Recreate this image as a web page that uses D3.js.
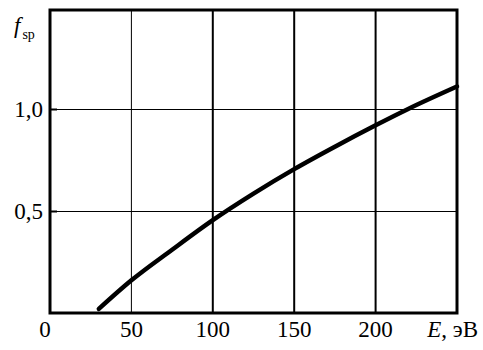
<!DOCTYPE html>
<html lang="ru">
<head>
<meta charset="UTF-8">
<title>f_sp vs E</title>
<script src="https://d3js.org/d3.v7.min.js"></script>
<style>
    body, html { margin: 0; padding: 0; background: #fff; }
    text { font-family: "Liberation Serif", "DejaVu Serif", serif; fill: #000; }
</style>
</head>
<body>
<div id="chart"></div>
<script>
    // data
    const energy = [30, 50, 75, 100, 125, 150, 175, 200, 220, 250];
    const fsp = [0.02, 0.16, 0.31, 0.455, 0.585, 0.705, 0.815, 0.92, 1.0, 1.11];
    const xTicks = [0, 50, 100, 150, 200];
    const yTicks = [0.5, 1.0];
    const yTickLabels = ["0,5", "1,0"];

    const width = 483, height = 350;
    const m = { left: 50, right: 457, top: 10, bottom: 313 };

    const x = d3.scaleLinear().domain([0, 250]).range([m.left, m.right]);
    const y = d3.scaleLinear().domain([0, 1.485]).range([m.bottom, m.top]);

    const svg = d3.select("#chart").append("svg")
        .attr("width", width)
        .attr("height", height);

    // vertical grid lines (50 is thin, others heavier)
    svg.append("g").selectAll("line")
        .data(xTicks.filter(d => d > 0))
        .enter().append("line")
        .attr("x1", d => x(d)).attr("x2", d => x(d))
        .attr("y1", m.top).attr("y2", m.bottom)
        .attr("stroke", "#000")
        .attr("stroke-width", d => d === 50 ? 1 : 2);

    // horizontal grid lines
    svg.append("g").selectAll("line")
        .data(yTicks)
        .enter().append("line")
        .attr("x1", m.left).attr("x2", m.right)
        .attr("y1", d => Math.round(y(d)) + 0.5).attr("y2", d => Math.round(y(d)) + 0.5)
        .attr("stroke", "#000")
        .attr("stroke-width", 1);

    // small inward ticks on the left
    svg.append("g").selectAll("line")
        .data(yTicks)
        .enter().append("line")
        .attr("x1", m.left).attr("x2", m.left + 7)
        .attr("y1", d => Math.round(y(d)) + 0.5).attr("y2", d => Math.round(y(d)) + 0.5)
        .attr("stroke", "#000")
        .attr("stroke-width", 2);

    // frame
    svg.append("rect")
        .attr("x", m.left).attr("y", m.top)
        .attr("width", m.right - m.left).attr("height", m.bottom - m.top)
        .attr("fill", "none")
        .attr("stroke", "#000")
        .attr("stroke-width", 3);

    // curve
    const line = d3.line()
        .x((d, i) => x(energy[i]))
        .y(d => y(d))
        .curve(d3.curveMonotoneX);

    svg.append("path")
        .datum(fsp)
        .attr("d", line)
        .attr("fill", "none")
        .attr("stroke", "#000")
        .attr("stroke-width", 4.5)
        .attr("stroke-linecap", "round");

    // x tick labels
    svg.append("g").selectAll("text")
        .data(xTicks)
        .enter().append("text")
        .attr("x", d => x(d) - (d === 0 ? 5 : 0))
        .attr("y", 337)
        .attr("text-anchor", "middle")
        .style("font-size", "23px")
        .text(d => d);

    // x axis title
    const xt = svg.append("text")
        .attr("x", 478).attr("y", 337)
        .attr("text-anchor", "end")
        .style("font-size", "23px");
    xt.append("tspan").style("font-style", "italic").text("E");
    xt.append("tspan").text(", эВ");

    // y tick labels
    svg.append("g").selectAll("text")
        .data(yTicks)
        .enter().append("text")
        .attr("x", 43)
        .attr("y", d => y(d) + 8)
        .attr("text-anchor", "end")
        .style("font-size", "23px")
        .text((d, i) => yTickLabels[i]);

    // y axis title
    const yt = svg.append("text").attr("x", 14).attr("y", 33);
    yt.append("tspan").style("font-style", "italic").style("font-size", "23px").text("f");
    yt.append("tspan").attr("dy", 6).attr("dx", 2).style("font-size", "14px").text("sp");
</script>
</body>
</html>
